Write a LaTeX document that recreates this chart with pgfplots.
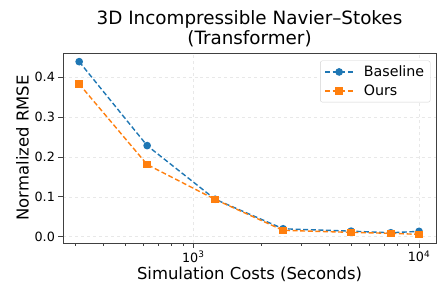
\documentclass[border=0pt]{standalone}
\usepackage{pgfplots}
\pgfplotsset{compat=1.18}
\usepackage{fontspec}
\setmainfont{DejaVu Sans}
\definecolor{tabblue}{HTML}{1F77B4}
\definecolor{taborange}{HTML}{FF7F0E}
\begin{document}
\begin{tikzpicture}
\path[use as bounding box] (-63bp,-56bp) rectangle (385bp,243bp);
\begin{axis}[
  at={(0bp,0bp)}, anchor=south west,
  scale only axis, width=373bp, height=190bp,
  xmode=log, log basis x=10,
  xmin=265, xmax=11890, ymin=-0.0157, ymax=0.4607,
  xtick={1000,10000},
  xticklabels={10\textsuperscript{3},10\textsuperscript{4}},
  minor xtick={300,400,500,600,700,800,900,2000,3000,4000,5000,6000,7000,8000,9000},
  ytick={0,0.1,0.2,0.3,0.4},
  yticklabel style={/pgf/number format/fixed,/pgf/number format/fixed zerofill,/pgf/number format/precision=1},
  /pgf/number format/assume math mode=true,
  tick label style={font=\fontsize{12.8}{14}\selectfont},
  tick align=outside,
  major tick length=4.6bp, minor tick length=2.6bp,
  xtick pos=bottom, ytick pos=left,
  axis line style={black!75, line width=0.8bp},
  every tick/.style={black!75, line width=0.8bp},
  grid=major,
  major grid style={gray!18, line width=0.7bp, dashed},
  title={3D Incompressible Navier–Stokes\\(Transformer)},
  title style={align=center, font=\fontsize{18.4}{20}\selectfont, yshift=-3.5bp},
  xlabel={Simulation Costs (Seconds)},
  ylabel={Normalized RMSE},
  label style={font=\fontsize{16.5}{18}\selectfont},
  xlabel style={yshift=2bp},
  ylabel style={yshift=-1bp},
  legend style={at={(0.985,0.96)}, anchor=north east, draw=gray!35, rounded corners=2bp,
    font=\fontsize{14.3}{17}\selectfont, row sep=3bp, inner xsep=4bp, inner ysep=3bp},
  legend cell align=left,
  legend image code/.code={%
    \draw[#1, mark repeat=2, mark phase=2] plot coordinates {(0bp,0bp) (14bp,0bp) (28bp,0bp)};
    \path (36bp,0bp);},
]
\addplot[tabblue, line width=1.4bp, dash pattern=on 5bp off 2.6bp, mark=*, mark size=3.1bp, mark options={solid}]
  coordinates {(312.5,0.439) (625,0.2285) (1250,0.094) (2500,0.020) (5000,0.014) (7500,0.010) (10000,0.0135)};
\addlegendentry{Baseline}
\addplot[taborange, line width=1.4bp, dash pattern=on 5bp off 2.6bp, mark=square*, mark size=3.1bp, mark options={solid}]
  coordinates {(312.5,0.383) (625,0.181) (1250,0.0935) (2500,0.016) (5000,0.011) (7500,0.0085) (10000,0.006)};
\addlegendentry{Ours}
\end{axis}
\end{tikzpicture}
\end{document}
